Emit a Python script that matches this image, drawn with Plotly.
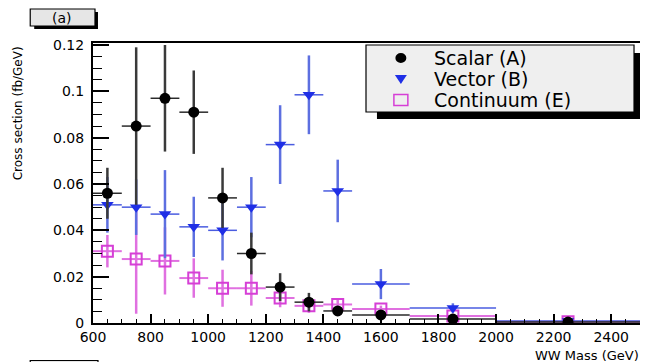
import plotly.graph_objects as go

# ---------------- data ----------------
mass_bin_centers = [650, 750, 850, 950, 1050, 1150, 1250, 1350, 1450, 1600, 1850, 2250]
mass_bin_halfwidths = [50, 50, 50, 50, 50, 50, 50, 50, 50, 100, 150, 250]

scalar_xsec = [0.056, 0.085, 0.097, 0.091, 0.054, 0.030, 0.0155, 0.009, 0.0052, 0.0035, 0.0017, 0.0004]
scalar_err = [0.011, 0.034, 0.023, 0.018, 0.013, 0.009, 0.006, 0.004, 0.002, 0.0015, 0.001, 0.0003]

vector_xsec = [0.051, 0.050, 0.047, 0.0415, 0.040, 0.050, 0.077, 0.0985, 0.057, 0.0168, 0.0065, 0.0009]
vector_err = [0.012, 0.012, 0.019, 0.013, 0.013, 0.013, 0.017, 0.017, 0.0135, 0.0065, 0.002, 0.0004]

continuum_xsec = [0.031, 0.0276, 0.0268, 0.0194, 0.015, 0.015, 0.0108, 0.0074, 0.008, 0.006, 0.003, 0.0005]
continuum_err = [0.007, 0.0236, 0.0145, 0.0085, 0.008, 0.0075, 0.004, 0.003, 0.002, 0.0015, 0.001, 0.0003]

x_tick_vals = [600, 800, 1000, 1200, 1400, 1600, 1800, 2000, 2200, 2400]
y_tick_vals = [0, 0.02, 0.04, 0.06, 0.08, 0.10, 0.12]
y_tick_text = ["0", "0.02", "0.04", "0.06", "0.08", "0.1", "0.12"]

series_names = ["Scalar (A)", "Vector (B)", "Continuum (E)"]

# ---------------- layout geometry ----------------
# the page body has an 8px default margin, so the figure is made 8px smaller
# and all window-pixel positions below are shifted by that offset
OFF = 8
W, H = 648 - OFF, 362 - OFF
L, R, T, B = 93 - OFF, 6, 43 - OFF, 39
PW, PH = W - L - R, H - T - B


def px_x(p):
    return (p - OFF - L) / PW


def px_y(p):
    return (H - B - (p - OFF)) / PH


FONT = "DejaVu Sans"
SCALAR_C = "black"
VECTOR_C = "#1f2fe6"
CONT_C = "#d63fd6"

fig = go.Figure()

# Continuum (E)
fig.add_trace(go.Scatter(
    x=mass_bin_centers, y=continuum_xsec, mode="markers", name=series_names[2],
    marker=dict(symbol="square-open", size=11, color=CONT_C, line=dict(width=2, color=CONT_C)),
    error_x=dict(type="data", array=mass_bin_halfwidths, color="#e070e0", thickness=2, width=0),
    error_y=dict(type="data", array=continuum_err, color="#e070e0", thickness=2.5, width=0),
))

# Vector (B)
fig.add_trace(go.Scatter(
    x=mass_bin_centers, y=vector_xsec, mode="markers", name=series_names[1],
    marker=dict(symbol="triangle-down", size=11, color=VECTOR_C),
    error_x=dict(type="data", array=mass_bin_halfwidths, color="#4a5ce0", thickness=1.5, width=0),
    error_y=dict(type="data", array=vector_err, color="#5d6fe0", thickness=2.5, width=0),
))

# Scalar (A)
fig.add_trace(go.Scatter(
    x=mass_bin_centers, y=scalar_xsec, mode="markers", name=series_names[0],
    marker=dict(symbol="circle", size=11, color=SCALAR_C),
    error_x=dict(type="data", array=mass_bin_halfwidths, color="#2a2a2a", thickness=1.5, width=0),
    error_y=dict(type="data", array=scalar_err, color="#3a3a3a", thickness=2.5, width=0),
))

shapes = [
    # legend shadow + box
    dict(type="rect", xref="paper", yref="paper", layer="above",
         x0=px_x(378), x1=px_x(645), y0=px_y(119), y1=px_y(53),
         fillcolor="black", line=dict(width=0)),
    dict(type="rect", xref="paper", yref="paper", layer="above",
         x0=px_x(367), x1=px_x(636), y0=px_y(112), y1=px_y(45),
         fillcolor="#efefef", line=dict(width=1.2, color="black")),
    # (a) label shadow + box
    dict(type="rect", xref="paper", yref="paper", layer="above",
         x0=px_x(34), x1=px_x(98), y0=px_y(29), y1=px_y(12),
         fillcolor="black", line=dict(width=0)),
    dict(type="rect", xref="paper", yref="paper", layer="above",
         x0=px_x(30), x1=px_x(95), y0=px_y(26), y1=px_y(9),
         fillcolor="#e6e6e6", line=dict(width=1.2, color="black")),
    # next panel label box (cut at bottom)
    dict(type="rect", xref="paper", yref="paper", layer="above",
         x0=px_x(30), x1=px_x(98), y0=px_y(374), y1=px_y(360.5),
         fillcolor="#e6e6e6", line=dict(width=1.2, color="black")),
]

# legend key glyphs (decoration inside the legend box)
key_x = 402
row_y = [58, 79, 100]
shapes.append(dict(type="circle", xref="paper", yref="paper", layer="above",
                   x0=px_x(key_x - 5.5), x1=px_x(key_x + 5.5),
                   y0=px_y(row_y[0] + 5), y1=px_y(row_y[0] - 5),
                   fillcolor=SCALAR_C, line=dict(width=0)))
tri = "M {a},{b} L {c},{b} L {d},{e} Z".format(
    a=px_x(key_x - 6), b=px_y(row_y[1] - 4), c=px_x(key_x + 6),
    d=px_x(key_x), e=px_y(row_y[1] + 5))
shapes.append(dict(type="path", xref="paper", yref="paper", layer="above",
                   path=tri, fillcolor=VECTOR_C, line=dict(width=0)))
shapes.append(dict(type="rect", xref="paper", yref="paper", layer="above",
                   x0=px_x(key_x - 7), x1=px_x(key_x + 7),
                   y0=px_y(row_y[2] + 5.5), y1=px_y(row_y[2] - 5.5),
                   fillcolor="rgba(0,0,0,0)", line=dict(width=1.5, color=CONT_C)))

annotations = [
    dict(text="(a)", xref="paper", yref="paper", x=px_x(62), y=px_y(17.5),
         xanchor="center", yanchor="middle", showarrow=False,
         font=dict(family=FONT, size=14, color="black")),
    dict(text="WW Mass (GeV)", xref="paper", yref="paper", x=px_x(643), y=px_y(346),
         xanchor="right", yanchor="top", showarrow=False,
         font=dict(family=FONT, size=13, color="black")),
    dict(text="Cross section (fb/GeV)", xref="paper", yref="paper", x=px_x(18), y=px_y(113),
         xanchor="center", yanchor="middle", showarrow=False, textangle=-90,
         font=dict(family=FONT, size=12, color="black")),
]
for name, ry in zip(series_names, row_y):
    annotations.append(dict(text=name, xref="paper", yref="paper", x=px_x(433), y=px_y(ry),
                            xanchor="left", yanchor="middle", showarrow=False,
                            font=dict(family=FONT, size=19, color="black")))

fig.update_layout(
    width=W, height=H,
    margin=dict(l=L, r=R, t=T, b=B, pad=0),
    paper_bgcolor="white", plot_bgcolor="white",
    showlegend=False,
    shapes=shapes,
    annotations=annotations,
    xaxis=dict(range=[600, 2500], tickvals=x_tick_vals, ticks="inside", ticklen=9,
               tickwidth=1.5, tickcolor="black", showline=True, linecolor="black",
               linewidth=1.5, mirror=True, showgrid=False, zeroline=False,
               tickfont=dict(family=FONT, size=14, color="black"),
               minor=dict(dtick=50, tick0=600, ticks="inside", ticklen=4,
                          tickcolor="black", tickwidth=1.2, showgrid=False)),
    yaxis=dict(range=[0, 0.12086], tickvals=y_tick_vals, ticktext=y_tick_text,
               ticks="inside", ticklen=16, tickwidth=1.5, tickcolor="black",
               showline=True, linecolor="black", linewidth=2, mirror=True,
               showgrid=False, zeroline=False, ticklabelstandoff=4,
               tickfont=dict(family=FONT, size=14, color="black"),
               minor=dict(dtick=0.005, tick0=0, ticks="inside", ticklen=9,
                          tickcolor="black", tickwidth=1.2, showgrid=False)),
)

fig.write_html("out.html")
